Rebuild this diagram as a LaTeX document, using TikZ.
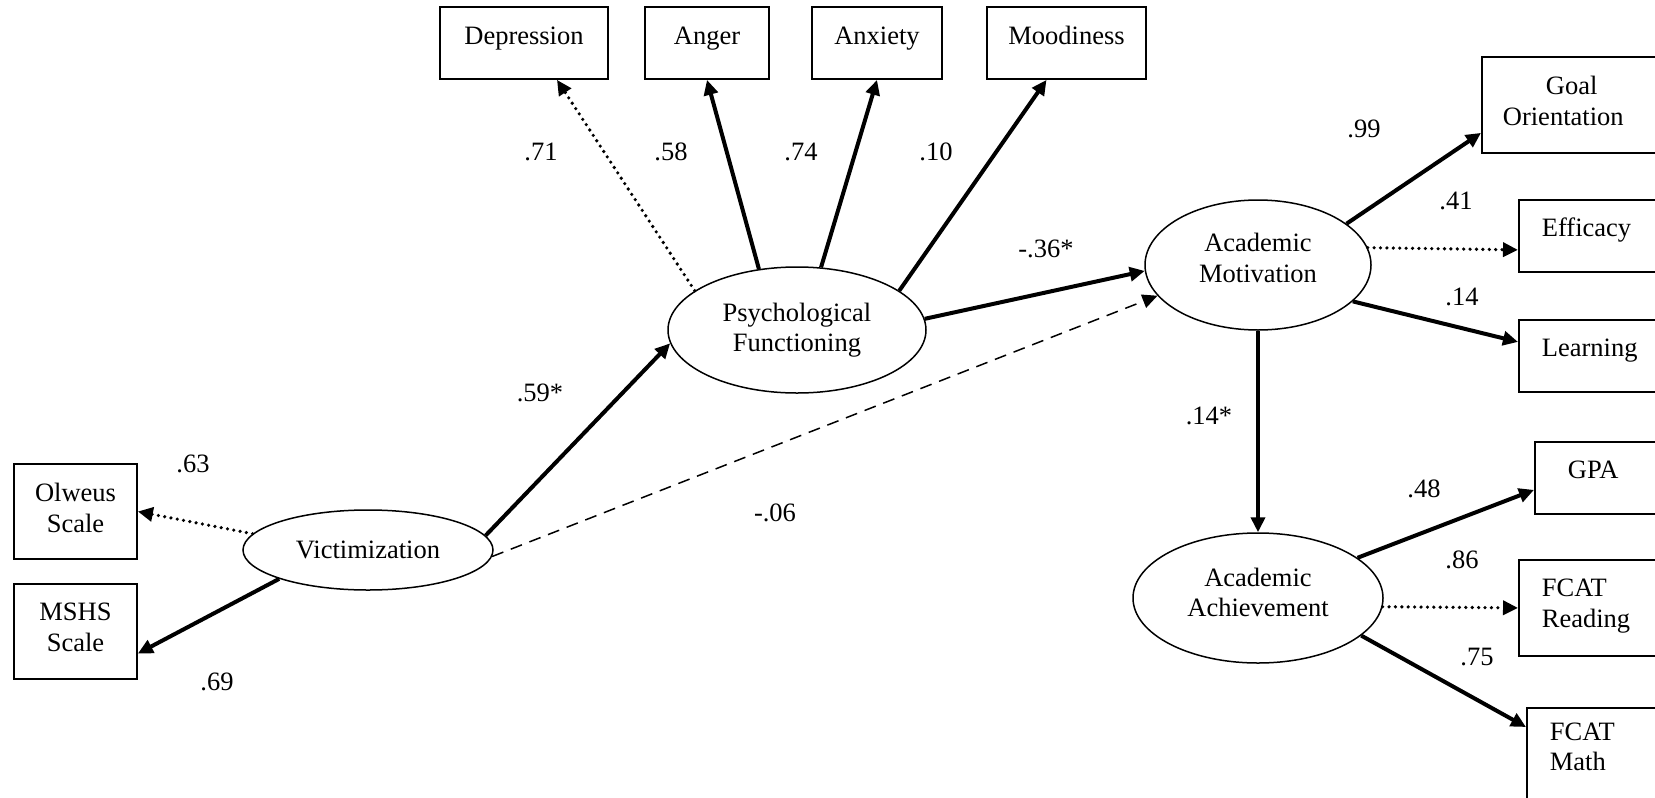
\documentclass[tikz,border=0pt]{standalone}
\usepackage{fontspec}
\setmainfont{Liberation Serif}
\usetikzlibrary{arrows.meta, shapes.geometric}

\begin{document}
\begin{tikzpicture}[
    x=0.5pt, y=-0.5pt,
    font=\fontsize{13.25}{15.3}\selectfont,
    latent/.style={ellipse, draw=black, line width=0.75pt, align=center, inner sep=0pt},
    obs/.style={rectangle, draw=black, line width=0.9pt, inner ysep=0pt, text height=18.5pt, text depth=17.5pt},
    obstwo/.style={rectangle, draw=black, line width=0.9pt, align=center, minimum width=61.5pt, minimum height=47.5pt, text depth=4pt},
    rbox/.style={rectangle, draw=black, line width=0.9pt, anchor=north west, align=left, text width=90pt, inner xsep=11.5pt},
    rboxone/.style={rbox, inner ysep=0pt, text height=18.5pt, text depth=17.5pt},
    rboxtwo/.style={rbox, minimum height=48pt},
    coef/.style={inner sep=0pt},
    arrow/.style={-{Triangle[length=7.5pt,width=7pt]}, line width=2pt},
    dotarrow/.style={arrow, line width=1.8pt, dash pattern=on 0pt off 3.2pt, line cap=round},
    dasharrow/.style={-{Triangle[length=7.5pt,width=7pt]}, line width=0.75pt, dash pattern=on 6pt off 4pt}
]
\useasboundingbox (0,0) rectangle (1655,798);

% Latent variables
\node[latent, minimum width=125pt, minimum height=40pt] (vict) at (368,550) {Victimization};
\node[latent, minimum width=129pt, minimum height=63pt] (psych) at (797,330) {Psychological\\Functioning};
\node[latent, minimum width=113pt, minimum height=65pt, text depth=7.4pt] (motiv) at (1258,265) {Academic\\Motivation};
\node[latent, minimum width=125pt, minimum height=65pt, text depth=5.8pt] (achv) at (1258,598) {Academic\\Achievement};

% Indicators
\node[obstwo] (olw) at (75.5,511.5) {Olweus\\Scale};
\node[obstwo] (mshs) at (75.5,631.5) {MSHS\\Scale};
\node[obs, minimum width=84pt] (dep) at (524,43) {Depression};
\node[obs, minimum width=62pt] (anger) at (707,43) {Anger};
\node[obs, minimum width=65pt] (anx) at (877,43) {Anxiety};
\node[obs, minimum width=79.5pt] (mood) at (1066.5,43) {Moodiness};
\node[rboxtwo, inner xsep=10.5pt, text depth=19.5pt] (goal) at (1481,56) {\hspace*{21.5pt}Goal\\Orientation};
\node[rboxone] (eff) at (1518,199) {Efficacy};
\node[rboxone] (learn) at (1518,319) {Learning};
\node[rboxone, inner xsep=16.5pt] (gpa) at (1534,441) {GPA};
\node[rboxtwo, text depth=20.2pt] (read) at (1518,559) {FCAT\\Reading};
\node[rboxtwo, text depth=24.3pt] (math) at (1526,707) {FCAT\\Math};

% Paths
\draw[dotarrow] (vict.172) -- (olw.east);
\draw[arrow] (vict.198) -- ([yshift=-11pt]mshs.east);
\draw[arrow] (vict.7) -- (psych.186);
\draw[dasharrow] (vict.-3) -- (motiv.197);
\draw[arrow] (psych.5) -- (motiv.183);
\draw[dotarrow] (psych.159) -- ([xshift=16.5pt]dep.south);
\draw[arrow] (psych.122) -- (anger.south);
\draw[arrow] (psych.69) -- (anx.south);
\draw[arrow] (psych.21) -- ([xshift=-10pt]mood.south);
\draw[arrow] (motiv.25) -- ([yshift=-14pt]goal.west);
\draw[dotarrow] (motiv.9) -- ([yshift=-7pt]eff.west);
\draw[arrow] (motiv.-21) -- ([yshift=7pt]learn.west);
\draw[arrow] (motiv.south) -- (achv.north);
\draw[arrow] (achv.22) -- ([yshift=-6pt]gpa.west);
\draw[dotarrow] (achv.-4.6) -- (read.west);
\draw[arrow] (achv.-20) -- ([yshift=-10pt]math.north west);

% Coefficients
\node[coef] (c63) at (193,464) {.63};
\node[coef] (c69) at (217,682) {.69};
\node[coef] (c59) at (540,393) {.59*};
\node[coef] (c06) at (775,513) {-.06};
\node[coef] (c71) at (541,152) {.71};
\node[coef] (c58) at (671,152) {.58};
\node[coef] (c74) at (801,152) {.74};
\node[coef] (c10) at (936,152) {.10};
\node[coef] (c36) at (1046,249) {-.36*};
\node[coef] (c99) at (1364,129) {.99};
\node[coef] (c41) at (1456,201) {.41};
\node[coef] (c14) at (1462,297) {.14};
\node[coef] (c14s) at (1209,416) {.14*};
\node[coef] (c48) at (1424,489) {.48};
\node[coef] (c86) at (1462,560) {.86};
\node[coef] (c75) at (1477,657) {.75};

\end{tikzpicture}
\end{document}
